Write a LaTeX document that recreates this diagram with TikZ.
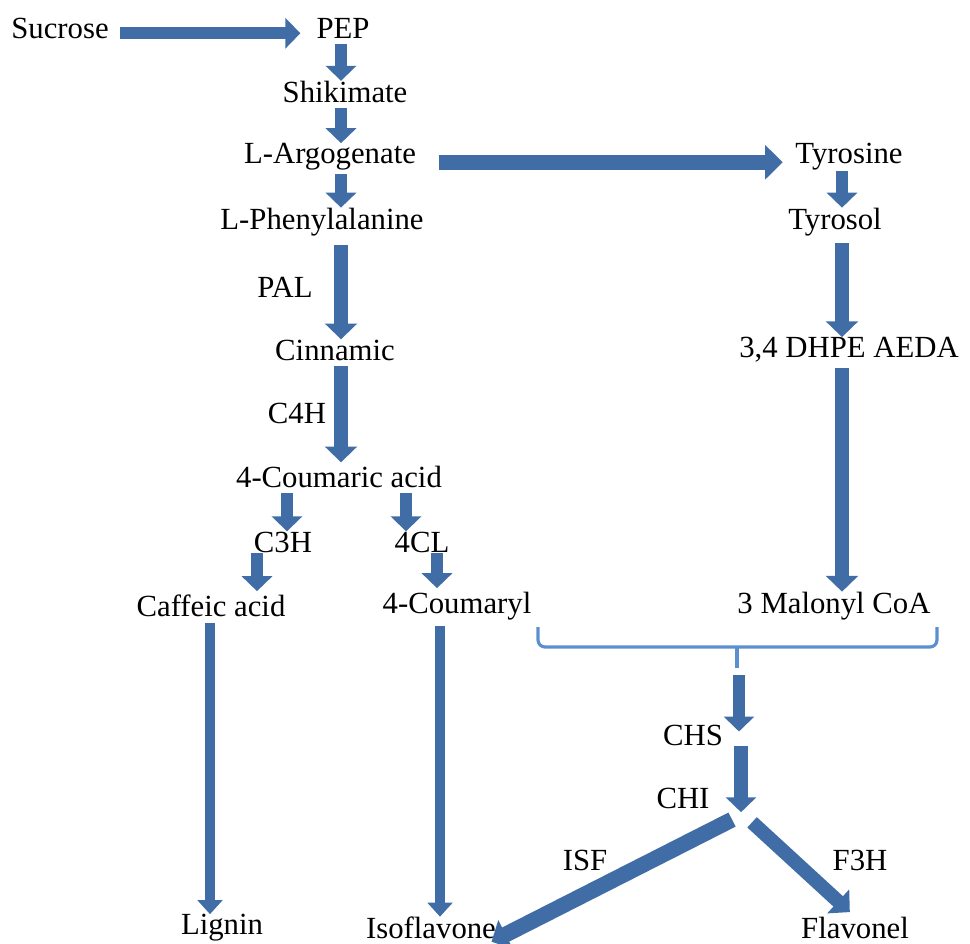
\documentclass[tikz,border=0pt]{standalone}
\usepackage{fontspec}
\setmainfont{Liberation Serif}
\usetikzlibrary{arrows.meta}
\definecolor{flowblue}{HTML}{416DA6}
\definecolor{bracketblue}{HTML}{5B8FD0}

\begin{document}
\begin{tikzpicture}[x=0.02cm,y=-0.02cm,
    lbl/.style={inner sep=0pt, font=\fontsize{17.5}{20}\selectfont},
    flow/.style={draw=flowblue, line width=7pt, -{Triangle[width=17pt,length=8.5pt]}},
    longflow/.style={flow, line width=8pt, -{Triangle[width=18pt,length=9pt]}},
    thinflow/.style={flow, line width=5.5pt, -{Triangle[width=14pt,length=8pt]}},
    bracket/.style={draw=bracketblue, line width=1.8pt, rounded corners=4pt}]
        \useasboundingbox (0,0) rectangle (970,943);

        % metabolites and enzymes
        \node[lbl] (sucrose) at (60,28) {Sucrose};
        \node[lbl] (pep) at (343,28) {PEP};
        \node[lbl] (shikimate) at (345,92) {Shikimate};
        \node[lbl] (argogenate) at (330,157) {L-Argogenate};
        \node[lbl] (tyrosine) at (849,157) {Tyrosine};
        \node[lbl] (phenylalanine) at (322,222) {L-Phenylalanine};
        \node[lbl] (tyrosol) at (835,222) {Tyrosol};
        \node[lbl] (pal) at (285,287) {PAL};
        \node[lbl] (cinnamic) at (335,350) {Cinnamic};
        \node[lbl] (dhpe) at (849,350) {3,4 DHPE AEDA};
        \node[lbl] (c4h) at (297,413) {C4H};
        \node[lbl] (coumaric) at (339,477) {4-Coumaric acid};
        \node[lbl] (c3h) at (283,542) {C3H};
        \node[lbl] (fourcl) at (422,542) {4CL};
        \node[lbl] (caffeic) at (211,606) {Caffeic acid};
        \node[lbl] (coumaryl) at (457,606) {4-Coumaryl};
        \node[lbl] (malonyl) at (834,606) {3 Malonyl CoA};
        \node[lbl] (chs) at (693,735) {CHS};
        \node[lbl] (chi) at (683,798) {CHI};
        \node[lbl] (isf) at (585,860) {ISF};
        \node[lbl] (f3h) at (860,860) {F3H};
        \node[lbl] (lignin) at (222,928) {Lignin};
        \node[lbl] (isoflavone) at (431,928) {Isoflavone};
        \node[lbl] (flavonel) at (855,928) {Flavonel};

        % columns of the arrows
        \coordinate (colmain) at (341,0);
        \coordinate (coltyr) at (842,0);
        \coordinate (colc3h) at (287,0);
        \coordinate (colcaf) at (257,0);
        \coordinate (colcl) at (406,0);
        \coordinate (colcou) at (437,0);
        \coordinate (collig) at (210,0);
        \coordinate (coliso) at (440,0);
        \coordinate (colchs) at (739,0);
        \coordinate (merge) at (737,668);
        \coordinate (fork) at (743,814);

        % main pathway
        \draw[flow, shorten <=6pt, shorten >=9pt] ([yshift=-3pt]sucrose.east) -- ([yshift=-3pt]pep.west);
        \draw[flow, shorten <=3pt] (pep.south -| colmain) -- (shikimate.north -| colmain);
        \draw[flow, shorten <=3pt] (shikimate.south -| colmain) -- (argogenate.north -| colmain);
        \draw[flow, shorten <=2pt] (argogenate.south -| colmain) -- (phenylalanine.north -| colmain);
        \draw[flow, line width=8.5pt, -{Triangle[width=19pt,length=10pt]}, shorten <=13pt, shorten >=7pt]
            ([yshift=-3pt]argogenate.east) -- ([yshift=-3pt]tyrosine.west);
        \draw[longflow, shorten <=5pt] (phenylalanine.south -| colmain) -- (cinnamic.north -| colmain);
        \draw[longflow, shorten <=3pt, shorten >=2pt] (cinnamic.south -| colmain) -- (coumaric.north -| colmain);

        % tyrosol branch
        \draw[flow] (tyrosine.south -| coltyr) -- (tyrosol.north -| coltyr);
        \draw[longflow, shorten <=4pt] (tyrosol.south -| coltyr) -- (dhpe.north -| coltyr);
        \draw[longflow, shorten <=3pt] (dhpe.south -| coltyr) -- (malonyl.north -| coltyr);

        % split after 4-coumaric acid
        \draw[flow, shorten <=3pt] (coumaric.south -| colc3h) -- (c3h.north -| colc3h);
        \draw[flow, shorten <=3pt] (coumaric.south -| colcl) -- (fourcl.north -| colcl);
        \draw[flow, shorten >=2pt] (c3h.south -| colcaf) -- (caffeic.north -| colcaf);
        \draw[flow, shorten >=2pt] (fourcl.south -| colcou) -- (coumaryl.north -| colcou);
        \draw[thinflow, shorten <=3pt] (caffeic.south -| collig) -- (lignin.north -| collig);
        \draw[thinflow, shorten <=3pt] (coumaryl.south -| coliso) -- (isoflavone.north -| coliso);

        % condensation to flavonoids
        \draw[bracket] (538,627) -- (538,647) -- (937,647) -- (937,627);
        \draw[bracket] (737,647) -- (merge);
        \draw[flow, shorten <=4pt, shorten >=2pt] (merge -| colchs) -- (chs.east -| colchs);
        \draw[flow, line width=8pt, shorten >=-2pt] (chs.south east -| colchs) ++(2,0) coordinate (chsout) -- (chi.south east -| chsout);
        \draw[longflow, line width=9pt, shorten <=7pt, shorten >=-3pt] (fork) -- (isoflavone.south east);
        \draw[longflow, shorten <=7pt, shorten >=4pt] (fork) -- (flavonel.north);
\end{tikzpicture}
\end{document}
